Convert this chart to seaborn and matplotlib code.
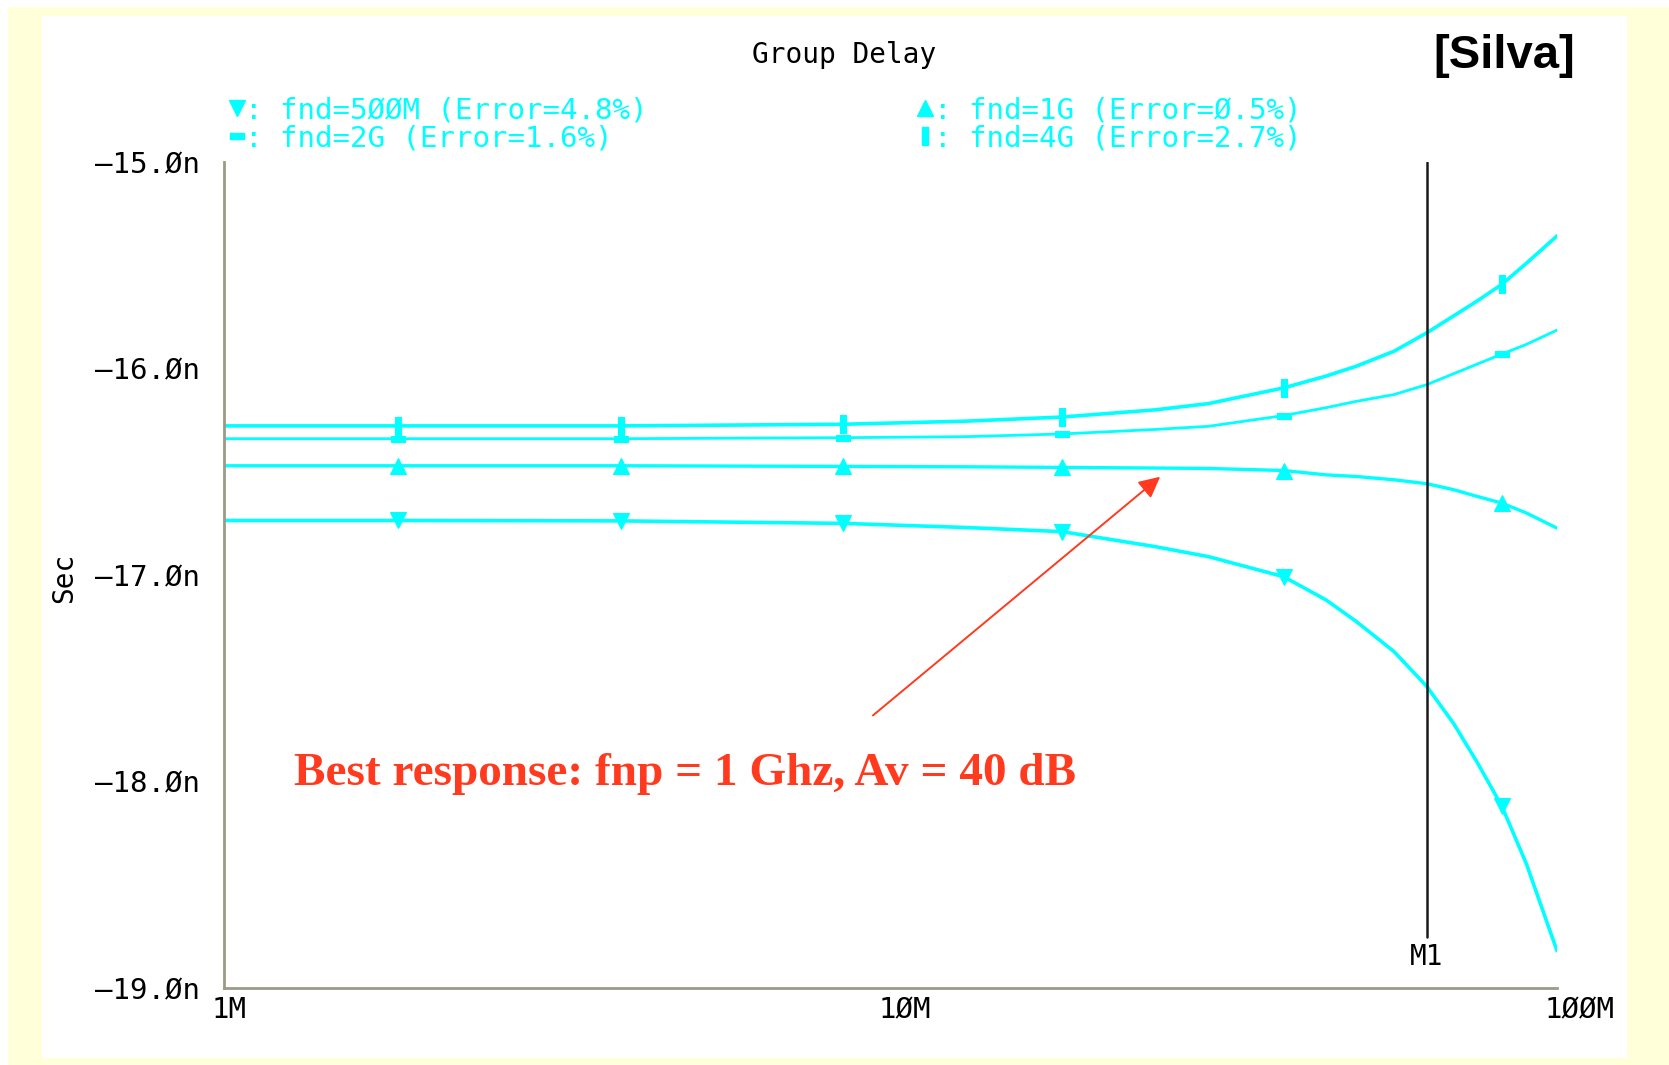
"""
Group delay of the filter for four fnd settings (Cadence-style plot).
"""

import matplotlib
matplotlib.use("Agg")
import matplotlib.pyplot as plt
import seaborn as sns
from matplotlib.patches import Rectangle
from matplotlib.lines import Line2D
from matplotlib.ticker import FixedLocator, MultipleLocator, NullFormatter
from matplotlib.transforms import ScaledTranslation

# frequency points (MHz) and group delay (ns)
FREQ_MHZ = [1, 1.83, 3.94, 8.5, 13, 18.1, 25, 30, 38.9, 45, 50, 57, 63.8, 70, 76, 82.7, 90, 100]
DELAY_500M = [-16.736, -16.736, -16.738, -16.750, -16.770, -16.790, -16.863, -16.911, -17.008,
              -17.120, -17.225, -17.372, -17.540, -17.720, -17.910, -18.121, -18.400, -18.820]
DELAY_1G = [-16.471, -16.471, -16.471, -16.474, -16.476, -16.479, -16.482, -16.484, -16.494,
            -16.515, -16.523, -16.539, -16.558, -16.587, -16.620, -16.652, -16.700, -16.773]
DELAY_2G = [-16.340, -16.340, -16.340, -16.335, -16.330, -16.317, -16.295, -16.280, -16.228,
            -16.190, -16.159, -16.126, -16.078, -16.025, -15.978, -15.930, -15.883, -15.814]
DELAY_4G = [-16.278, -16.278, -16.278, -16.270, -16.255, -16.235, -16.200, -16.170, -16.094,
            -16.037, -15.989, -15.916, -15.827, -15.745, -15.672, -15.592, -15.490, -15.358]
MARK_IDX = [1, 2, 3, 5, 8, 15]

LABELS = [": fnd=5ØØM (Error=4.8%)", ": fnd=2G (Error=1.6%)",
          ": fnd=1G (Error=Ø.5%)", ": fnd=4G (Error=2.7%)"]

Y_TICKS = [-19, -18, -17, -16, -15]
Y_LABELS = ["—19.Øn", "—18.Øn", "—17.Øn", "—16.Øn", "—15.Øn"]
X_TICKS = [1e6, 1e7, 1e8]
X_LABELS = ["1M", "1ØM", "1ØØM"]

M1_FREQ = 63.8e6
ARROW_HEAD = (25.4e6, -16.524)
ARROW_TAIL = (9.42e6, -17.68)
NOTE_XY = (1.276e6, -17.966)

CYAN = "#00FFFF"
RED = "#FF3A1E"
MONO = "DejaVu Sans Mono"

RECT_H = [(-1, -0.45), (1, -0.45), (1, 0.45), (-1, 0.45), (-1, -0.45)]
RECT_V = [(-0.35, -1), (0.35, -1), (0.35, 1), (-0.35, 1), (-0.35, -1)]

sns.set_style("white")
plt.rcParams["font.family"] = ["DejaVu Sans Mono", "DejaVu Sans"]
plt.rcParams["text.color"] = "black"

W, H = 1669, 1065
fig = plt.figure(figsize=(W / 100, H / 100), dpi=100, facecolor="white")

# slide background: pale yellow frame with white panel
fig.patches.append(Rectangle((8 / W, 0), 1, (H - 7) / H, transform=fig.transFigure,
                             facecolor="#FFFFDA", edgecolor="none", zorder=-3))
fig.patches.append(Rectangle((42 / W, 7 / H), (1627 - 42) / W, (1058 - 16) / H,
                             transform=fig.transFigure, facecolor="white",
                             edgecolor="none", zorder=-2))

ax = fig.add_axes([223.5 / W, 1 - 988 / H, (1557 - 223.5) / W, (988 - 162) / H])
ax.set_facecolor("none")
ax.set_xscale("log")

freq_hz = [f * 1e6 for f in FREQ_MHZ]
series = [
    (DELAY_500M, "v", 12, 2.6),
    (DELAY_2G, RECT_H, 10, 2.0),
    (DELAY_1G, "^", 12, 2.4),
    (DELAY_4G, RECT_V, 13, 2.6),
]
for vals, mk, ms, lw in series:
    sns.lineplot(x=freq_hz, y=vals, ax=ax, color=CYAN, lw=lw, marker=mk, markersize=ms,
                 markevery=MARK_IDX, markeredgecolor=CYAN, markeredgewidth=0.8,
                 legend=False, sort=False, estimator=None)

ax.set_xlim(1e6, 1e8)
ax.set_ylim(-19, -15)

# marker M1
ax.axvline(M1_FREQ, ymin=0.062, ymax=1.0, color="#1a1a1a", lw=1.8)
ax.text(M1_FREQ, 0.038, "M1", transform=ax.get_xaxis_transform(), ha="center",
        va="center", fontsize=20, family=MONO, color="black")

# axes styling
for side in ["top", "right"]:
    ax.spines[side].set_visible(False)
for side in ["left", "bottom"]:
    ax.spines[side].set_color("#9b9b86")
    ax.spines[side].set_linewidth(2)

ax.yaxis.set_major_locator(FixedLocator(Y_TICKS))
ax.set_yticklabels(Y_LABELS)
ax.yaxis.set_minor_locator(MultipleLocator(0.1))
ax.tick_params(axis="y", which="major", direction="in", length=7, width=1.5,
               color="black", pad=17, labelsize=21, labelcolor="black")
ax.tick_params(axis="y", which="minor", direction="in", length=4, width=1.2,
               color="#8a8a7a")

minor_x = [m * d for d in (1e6, 1e7) for m in range(2, 10)] + [M1_FREQ]
ax.xaxis.set_major_locator(FixedLocator(X_TICKS))
ax.set_xticklabels(X_LABELS)
ax.xaxis.set_minor_locator(FixedLocator(minor_x))
ax.xaxis.set_minor_formatter(NullFormatter())
ax.tick_params(axis="x", which="both", direction="in", length=5, width=1.2,
               color="black", pad=6, labelsize=21, labelcolor="black")
for lab in ax.get_yticklabels():
    lab.set_family(MONO)
shift = ScaledTranslation(-0.12, 0, fig.dpi_scale_trans)
for lab in ax.get_xticklabels():
    lab.set_family(MONO)
    lab.set_horizontalalignment("left")
    lab.set_transform(lab.get_transform() + shift)

ax.set_xlabel("")
ax.set_ylabel("")
fig.text(64 / W, 1 - 578 / H, "Sec", rotation=90, ha="center", va="center",
         fontsize=20, family=MONO)

# title and source tag
fig.text(844 / W, 1 - 55 / H, "Group Delay", ha="center", va="center",
         fontsize=20, family=MONO)
fig.text(1504 / W, 1 - 56 / H, "[Silva]", ha="center", va="center",
         fontsize=34, weight="bold", family="Liberation Sans", color="black")

# legend in two columns
handles = [Line2D([], [], ls="none", marker=mk, markersize=ms, color=CYAN,
                  markeredgecolor=CYAN) for _, mk, ms, _ in series]
fig.legend(handles, LABELS, ncol=2, loc="center left",
           bbox_to_anchor=(222 / W, 1 - 124 / H), frameon=False,
           prop={"family": MONO, "size": 21}, labelcolor=CYAN,
           handlelength=1.0, handletextpad=-0.2, columnspacing=9.0,
           borderpad=0, borderaxespad=0, labelspacing=0.0)

# annotation
ax.annotate("", xy=ARROW_HEAD, xytext=ARROW_TAIL,
            arrowprops=dict(arrowstyle="-|>", color=RED, lw=1.4,
                            mutation_scale=32, shrinkA=0, shrinkB=0))
ax.text(NOTE_XY[0], NOTE_XY[1], "Best response: fnp = 1 Ghz, Av = 40 dB",
        ha="left", va="center", fontsize=34, weight="bold",
        family="Liberation Serif", color=RED)

fig.savefig("out.png", dpi=100, facecolor=fig.get_facecolor())
